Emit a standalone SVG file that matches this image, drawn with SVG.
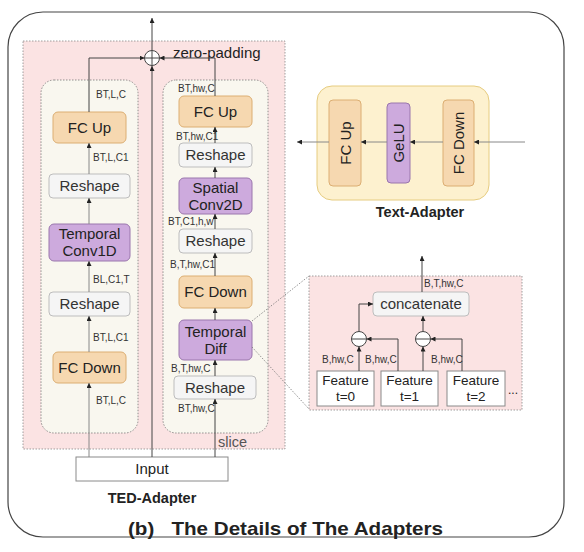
<svg xmlns="http://www.w3.org/2000/svg" width="584" height="552" viewBox="0 0 584 552">
<defs>
<marker id="ah" viewBox="0 0 6 6" refX="6" refY="3" markerWidth="5" markerHeight="5" markerUnits="userSpaceOnUse" orient="auto">
<path d="M0,0 L6,3 L0,6 z" fill="#222"/>
</marker>
</defs>
<style>
text{font-family:"Liberation Sans",Arial,sans-serif;fill:#222}
.n{font-size:15px;text-anchor:middle}
.s{font-size:10px;fill:#333}
.b{font-weight:bold;text-anchor:middle}
.orange{fill:#f6d8b0;stroke:#dcae72;stroke-width:1}
.purple{fill:#cdaadd;stroke:#9a76ad;stroke-width:1}
.gray{fill:#f5f5f5;stroke:#bdbdbd;stroke-width:1}
.white{fill:#fff;stroke:#8a8a8a;stroke-width:1}
.c{fill:none;stroke:#444;stroke-width:1;marker-end:url(#ah)}
.cg{fill:none;stroke:#888;stroke-width:1;marker-end:url(#ah)}
.dot{fill:none;stroke:#777;stroke-width:0.8;stroke-dasharray:1.5 1.5}
</style>

<g id="frame">
<rect x="8" y="12" width="556" height="525" rx="35" fill="#fff" stroke="#444" stroke-width="1.2"/>
</g>

<g id="ted-adapter">
<rect x="23" y="41" width="262" height="408" fill="#fbe3e3" stroke="#888" stroke-width="0.8" stroke-dasharray="1.5 1.5"/>
<rect x="41" y="80" width="97" height="353" rx="13" fill="#f9f7ef" stroke="#777" stroke-width="0.8" stroke-dasharray="1.5 1.5"/>
<rect x="163" y="80" width="105" height="353" rx="13" fill="#f9f7ef" stroke="#777" stroke-width="0.8" stroke-dasharray="1.5 1.5"/>
<text x="173" y="58" style="font-size:15px">zero-padding</text>
<text x="218" y="447" style="font-size:14.5px;fill:#555">slice</text>
<text x="152" y="503" class="b" style="font-size:14.5px">TED-Adapter</text>
</g>

<g id="sum">
<circle cx="152" cy="58" r="7.5" fill="#fff" stroke="#444" stroke-width="1"/>
<line x1="144.5" y1="58" x2="159.5" y2="58" stroke="#444" stroke-width="1"/>
<line x1="152" y1="50.5" x2="152" y2="65.5" stroke="#444" stroke-width="1"/>
</g>

<g id="input">
<rect x="76" y="457" width="152" height="24" class="white"/>
<text x="152" y="474" class="n">Input</text>
</g>

<g id="l-fcup"><rect x="53" y="112" width="73" height="31" rx="5" class="orange"/><text x="89.5" y="133" class="n">FC Up</text></g>
<g id="l-reshape1"><rect x="49" y="174" width="81" height="24" rx="4" class="gray"/><text x="89.5" y="191" class="n" style="fill:#333">Reshape</text></g>
<g id="l-conv1d"><rect x="49" y="224" width="81" height="37" rx="5" class="purple"/><text x="89.5" y="239" class="n">Temporal</text><text x="89.5" y="256" class="n">Conv1D</text></g>
<g id="l-reshape2"><rect x="49" y="292" width="81" height="24" rx="4" class="gray"/><text x="89.5" y="309" class="n" style="fill:#333">Reshape</text></g>
<g id="l-fcdown"><rect x="53" y="352" width="73" height="31" rx="5" class="orange"/><text x="89.5" y="373" class="n">FC Down</text></g>

<g id="r-fcup"><rect x="179" y="96" width="73" height="31" rx="5" class="orange"/><text x="215.5" y="117" class="n">FC Up</text></g>
<g id="r-reshape1"><rect x="179" y="143" width="73" height="24" rx="4" class="gray"/><text x="215.5" y="160" class="n" style="fill:#333">Reshape</text></g>
<g id="r-conv2d"><rect x="179" y="178" width="73" height="36" rx="5" class="purple"/><text x="215.5" y="193" class="n">Spatial</text><text x="215.5" y="210" class="n">Conv2D</text></g>
<g id="r-reshape2"><rect x="179" y="229" width="73" height="24" rx="4" class="gray"/><text x="215.5" y="246" class="n" style="fill:#333">Reshape</text></g>
<g id="r-fcdown"><rect x="179" y="276" width="73" height="32" rx="5" class="orange"/><text x="215.5" y="297" class="n">FC Down</text></g>
<g id="r-tdiff"><rect x="179" y="320" width="73" height="40" rx="5" class="purple"/><text x="215.5" y="337" class="n">Temporal</text><text x="215.5" y="354" class="n">Diff</text></g>
<g id="r-reshape3"><rect x="174" y="376" width="82" height="23" rx="4" class="gray"/><text x="215" y="393" class="n" style="fill:#333">Reshape</text></g>

<g id="text-adapter">
<rect x="317" y="86" width="172" height="114" rx="15" fill="#fdf1cf" stroke="#e6cc80" stroke-width="1"/>
<rect x="329" y="100" width="32" height="86" rx="4" class="orange"/>
<text transform="translate(350.5,143) rotate(-90)" class="n">FC Up</text>
<rect x="387" y="103" width="23" height="80" rx="4" class="purple"/>
<text transform="translate(404,143) rotate(-90)" class="n">GeLU</text>
<rect x="443" y="100" width="31" height="86" rx="4" class="orange"/>
<text transform="translate(464,143) rotate(-90)" class="n">FC Down</text>
<text x="420" y="217" class="b" style="font-size:14.5px">Text-Adapter</text>
</g>

<g id="tdiff-detail">
<line x1="252" y1="321" x2="309" y2="276" class="dot"/>
<line x1="252" y1="347" x2="309" y2="409" class="dot"/>
<rect x="309" y="276" width="213" height="134" fill="#fbe3e3" stroke="#888" stroke-width="0.8" stroke-dasharray="1.5 1.5"/>
<g id="concatenate"><rect x="373" y="292" width="96" height="24" rx="4" class="gray"/><text x="421" y="309" class="n" style="fill:#333">concatenate</text></g>
<g id="minus1"><circle cx="359" cy="339" r="7.5" fill="#fff" stroke="#444"/><line x1="351.5" y1="339" x2="366.5" y2="339" stroke="#444"/></g>
<g id="minus2"><circle cx="423" cy="339" r="7.5" fill="#fff" stroke="#444"/><line x1="415.5" y1="339" x2="430.5" y2="339" stroke="#444"/></g>
<g id="feat0"><rect x="317" y="371" width="57" height="35" class="white"/><text x="345.5" y="385" class="n" style="font-size:13.5px">Feature</text><text x="345.5" y="401" class="n" style="font-size:13.5px">t=0</text></g>
<g id="feat1"><rect x="381" y="371" width="57" height="35" class="white"/><text x="409.5" y="385" class="n" style="font-size:13.5px">Feature</text><text x="409.5" y="401" class="n" style="font-size:13.5px">t=1</text></g>
<g id="feat2"><rect x="447" y="371" width="58" height="35" class="white"/><text x="476" y="385" class="n" style="font-size:13.5px">Feature</text><text x="476" y="401" class="n" style="font-size:13.5px">t=2</text></g>
<text x="508" y="394" style="font-size:12px">...</text>
</g>

<g id="connectors">
<path d="M152,457 V66" class="c"/>
<path d="M152,50.5 V18" class="c"/>
<path d="M89,112 V58 H144.5" class="c"/>
<path d="M215,96 V58 H159.5" class="c"/>
<path d="M89,457 V383" class="cg"/>
<path d="M89,352 V316" class="cg"/>
<path d="M89,292 V261" class="cg"/>
<path d="M89,224 V198" class="cg"/>
<path d="M89,174 V143" class="cg"/>
<path d="M215,457 V399" class="c"/>
<path d="M215,376 V360" class="c"/>
<path d="M215,320 V308" class="c"/>
<path d="M215,276 V253" class="c"/>
<path d="M215,229 V214" class="c"/>
<path d="M215,178 V167" class="c"/>
<path d="M215,143 V127" class="c"/>
<path d="M525,142 H474" class="cg"/>
<path d="M443,142 H410" class="cg"/>
<path d="M387,142 H361" class="cg"/>
<path d="M329,142 H297" class="cg"/>
<path d="M422,292 V256" class="c"/>
<path d="M359,331.5 V304 H373" class="c"/>
<path d="M423,331.5 V316" class="c"/>
<path d="M359,371 V346.5" class="c"/>
<path d="M398,371 V339 H366.5" class="c"/>
<path d="M423,371 V346.5" class="c"/>
<path d="M462,371 V339 H430.5" class="c"/>
</g>

<g id="labels">
<text x="96" y="98" class="s">BT,L,C</text>
<text x="93" y="161" class="s">BT,L,C1</text>
<text x="93" y="283" class="s">BL,C1,T</text>
<text x="93" y="341" class="s">BT,L,C1</text>
<text x="96" y="404" class="s">BT,L,C</text>
<text x="178" y="92" class="s">BT,hw,C</text>
<text x="176" y="140" class="s">BT,hw,C1</text>
<text x="168" y="225" class="s">BT,C1,h,w</text>
<text x="170" y="268" class="s">B,T,hw,C1</text>
<text x="171" y="372" class="s">B,T,hw,C</text>
<text x="178" y="412" class="s">BT,hw,C</text>
<text x="424" y="287" class="s">B,T,hw,C</text>
<text x="322" y="363" class="s">B,hw,C</text>
<text x="365" y="363" class="s">B,hw,C</text>
<text x="431" y="363" class="s">B,hw,C</text>
</g>

<text x="128" y="535" style="font-size:18.5px;font-weight:bold" textLength="315" lengthAdjust="spacingAndGlyphs" xml:space="preserve">(b)   The Details of The Adapters</text>
</svg>
